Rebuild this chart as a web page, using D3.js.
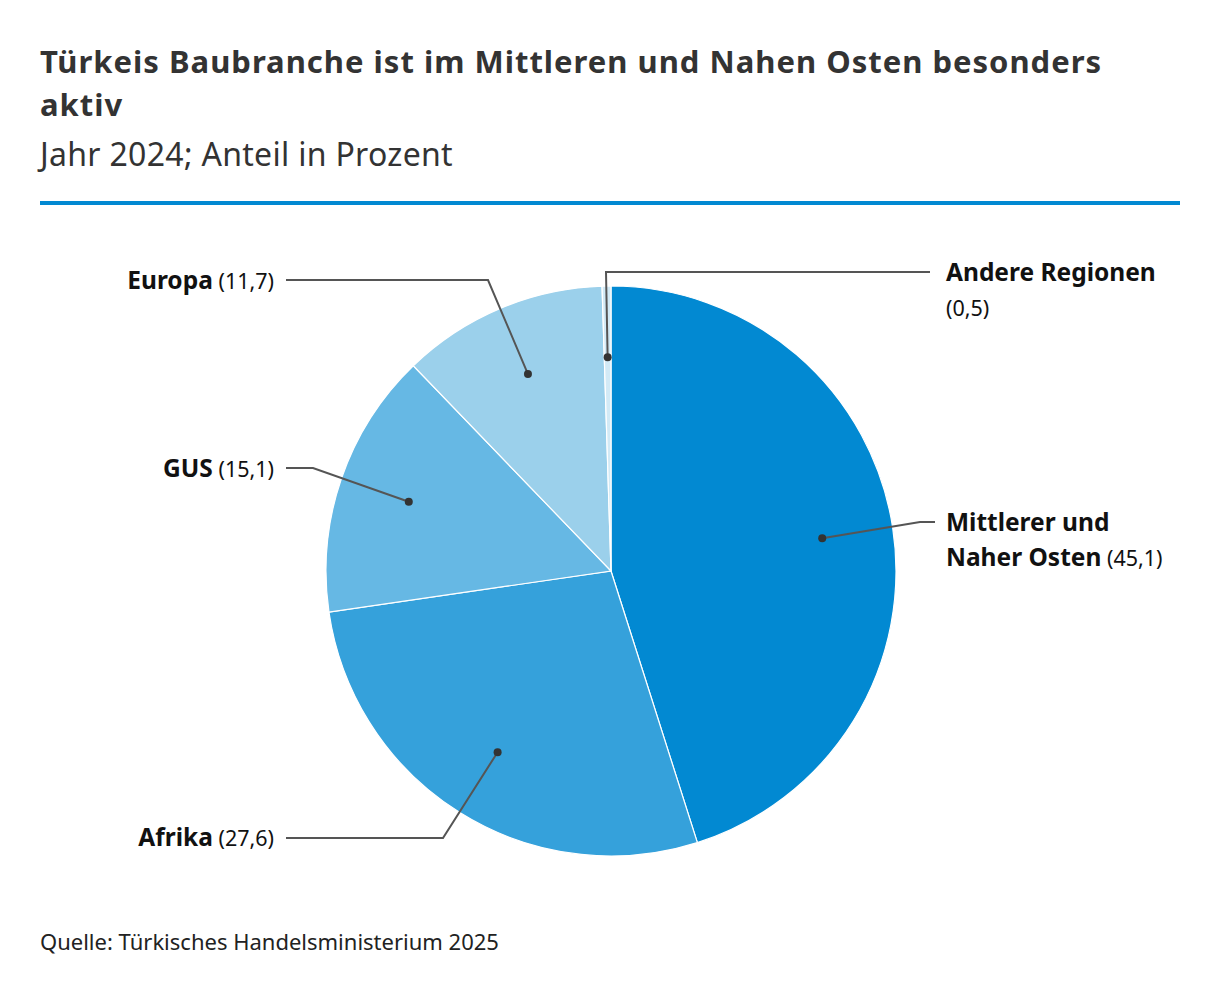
<!DOCTYPE html>
<html>
<head>
<meta charset="utf-8">
<script src="https://cdn.jsdelivr.net/npm/d3@7"></script>
<style>
  body { margin: 0; background: #fff; }
  svg { font-family: "Noto Sans", "Open Sans", sans-serif; }
</style>
</head>
<body>
<svg id="grafik"></svg>
<script>
// Daten
var regionen = ['Mittlerer und Naher Osten', 'Afrika', 'GUS', 'Europa', 'Andere Regionen'];
var anteile = [45.1, 27.6, 15.1, 11.7, 0.5];
var farben = ['#0289d2', '#35a1db', '#66b8e4', '#9bd0eb', '#d2eaf6'];

// Beschriftungen: Zeilen je Region (fett + normaler Wert)
var zeilen = [
  [['Mittlerer und', ''], ['Naher Osten', ' (45,1)']],
  [['Afrika', ' (27,6)']],
  [['GUS', ' (15,1)']],
  [['Europa', ' (11,7)']],
  [['Andere Regionen', ''], ['', '(0,5)']]
];

var breite = 1220, hoehe = 998;
var svg = d3.select('#grafik').attr('width', breite).attr('height', hoehe);

// Titel
svg.append('text').attr('x', 40).attr('y', 73)
  .style('font-size', '31px').style('font-weight', 'bold').style('letter-spacing', '1px')
  .attr('fill', '#333')
  .text('Türkeis Baubranche ist im Mittleren und Nahen Osten besonders');
svg.append('text').attr('x', 40).attr('y', 116)
  .style('font-size', '31px').style('font-weight', 'bold').style('letter-spacing', '1px')
  .attr('fill', '#333')
  .text('aktiv');
svg.append('text').attr('x', 40).attr('y', 166)
  .style('font-size', '32px').style('letter-spacing', '0.3px').attr('fill', '#333')
  .text('Jahr 2024; Anteil in Prozent');
svg.append('rect').attr('x', 40).attr('y', 201).attr('width', 1140).attr('height', 4)
  .attr('fill', '#0289d2');

// Kreisdiagramm
var mitte = [611, 571], radius = 285;
var plot = svg.append('g').attr('transform', 'translate(' + mitte[0] + ',' + mitte[1] + ')');

var daten = regionen.map((r, i) => ({ name: r, wert: anteile[i], farbe: farben[i], i: i }));
var torte = d3.pie().value(d => d.wert).sort(null);
var bogen = d3.arc().innerRadius(0).outerRadius(radius);
var innen = d3.arc().innerRadius(radius * 0.75).outerRadius(radius * 0.75);
var stuecke = torte(daten);

plot.selectAll('.stueck').data(stuecke).enter()
  .append('path').classed('stueck', true)
  .attr('d', bogen)
  .attr('fill', d => d.data.farbe)
  .attr('stroke', '#fff').attr('stroke-width', 1.2);

// Knickpunkte und Beschriftungsposition (relativ zur Mitte)
var layout = [
  { knick: [[309, -49], [324, -49]], seite: 'r', tx: 335, ty: -40 },
  { knick: [[-168, 267], [-325, 267]], seite: 'l', tx: -337, ty: 275 },
  { knick: [[-298, -103], [-325, -103]], seite: 'l', tx: -337, ty: -94 },
  { knick: [[-123, -291], [-325, -291]], seite: 'l', tx: -337, ty: -282 },
  { knick: [[-5, -299], [319, -299]], seite: 'r', tx: 335, ty: -290 }
];

stuecke.forEach(function(s, i) {
  var p = innen.centroid(s);
  var l = layout[i];
  var punkte = [p].concat(l.knick);
  plot.append('path')
    .attr('d', d3.line()(punkte))
    .attr('fill', 'none').attr('stroke', '#555').attr('stroke-width', 2);
  plot.append('circle').attr('cx', p[0]).attr('cy', p[1]).attr('r', 4).attr('fill', '#333');

  zeilen[i].forEach(function(z, j) {
    var t = plot.append('text')
      .attr('x', l.tx).attr('y', l.ty + j * 35)
      .attr('text-anchor', l.seite === 'l' ? 'end' : 'start')
      .attr('fill', '#111');
    if (z[0]) t.append('tspan').style('font-weight', 'bold').style('font-size', '24.5px').text(z[0]);
    if (z[1]) t.append('tspan').style('font-size', '21.5px').text(z[1]);
  });
});

// Quelle
svg.append('text').attr('x', 40).attr('y', 950)
  .style('font-size', '22px').attr('fill', '#222')
  .text('Quelle: Türkisches Handelsministerium 2025');
</script>
</body>
</html>
